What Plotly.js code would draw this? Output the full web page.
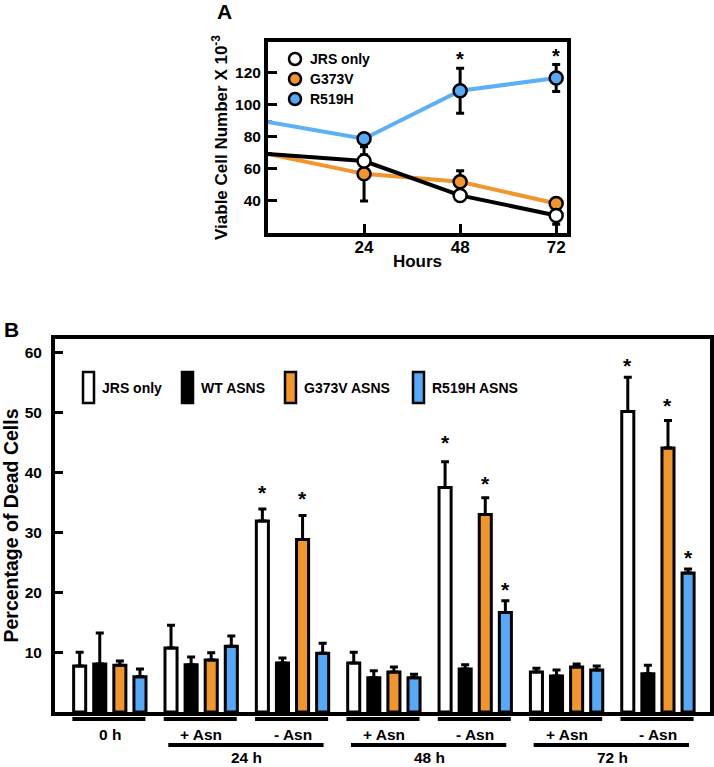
<!DOCTYPE html>
<html>
<head>
<meta charset="utf-8">
<script src="https://cdn.plot.ly/plotly-3.0.1.min.js"></script>
<style>html,body{margin:0;padding:0;background:#fff;}#chart{width:714px;height:767px;}</style>
</head>
<body>
<div id="chart"></div>
<script>
// ---------- Panel A data ----------
const hours = [0, 24, 48, 72];
const hourTicks = [24, 48, 72];
const jrsA = [69, 64.5, 43, 30.5];
const jrsAErr = [0, 4, 3, 5.5];
const g373vA = [69, 56.5, 51.5, 38];
const g373vAErr = [0, 17, 7, 2];
const r519hA = [89, 78.5, 108.5, 116.5];
const r519hAErr = [0, 3, 14, 8.5];
const starsAx = [48, 72];
const starsAy = [131, 133];
const seriesA = ["JRS only", "G373V", "R519H"];

// ---------- Panel B data ----------
const groupIdx = [0, 1, 2, 3, 4, 5, 6];
const groupLabels = ["0 h", "+ Asn", "- Asn", "+ Asn", "- Asn", "+ Asn", "- Asn"];
const timeLabels = ["24 h", "48 h", "72 h"];
const seriesB = ["JRS only", "WT ASNS", "G373V ASNS", "R519H ASNS"];
const jrsB    = [7.7, 10.7, 31.9, 8.2, 37.5, 6.7, 50.2];
const jrsBErr = [2.3, 3.8, 2.0, 1.8, 4.3, 0.6, 5.7];
const wtB     = [8.0, 7.9, 8.2, 5.7, 7.2, 6.0, 6.4];
const wtBErr  = [5.2, 1.3, 0.8, 1.2, 0.7, 1.0, 1.4];
const g373vB    = [7.8, 8.7, 28.8, 6.7, 33.0, 7.5, 44.1];
const g373vBErr = [0.7, 1.2, 4.0, 0.8, 2.8, 0.5, 4.6];
const r519hB    = [5.9, 11.0, 9.8, 5.7, 16.6, 7.0, 23.2];
const r519hBErr = [1.3, 1.7, 1.7, 0.6, 2.0, 0.7, 0.7];
// significance stars: group index, series index, y (glyph centre)
const starGroup  = [2, 2, 4, 4, 4, 6, 6, 6];
const starSeries = [0, 2, 0, 2, 3, 0, 2, 3];
const starY      = [37.4, 36.3, 45.6, 38.9, 21.1, 58.5, 51.9, 26.4];

// ---------- styling ----------
const W = 714, H = 767;
const PX = p => p / W, PY = p => 1 - p / H;
const ORANGE = "#F0962A", BLUE = "#56A9F7", BLUE_LINE = "#5CB0F6";
const FONT = "Liberation Sans, Arial, Helvetica, sans-serif";
const bold = (size, color) => ({family: FONT, size: size, color: color || "#000", weight: "bold"});

const traces = [];
// Panel A lines
const aSeries = [
  {y: jrsA, e: jrsAErr, line: "#000000", fill: "#ffffff"},
  {y: g373vA, e: g373vAErr, line: ORANGE, fill: ORANGE},
  {y: r519hA, e: r519hAErr, line: BLUE_LINE, fill: BLUE}
];
// lines first (orange under black, blue last)
[1, 0, 2].forEach(i => {
  const s = aSeries[i];
  traces.push({
    type: "scatter", mode: "lines", name: seriesA[i] + " line",
    x: hours, y: s.y, xaxis: "x", yaxis: "y", showlegend: false,
    line: {color: s.line, width: 4},
    error_y: {type: "data", array: s.e, visible: true, color: "#000", thickness: 3, width: 4},
    cliponaxis: true
  });
});
// then markers on top (measured time points only)
[1, 0, 2].forEach(i => {
  const s = aSeries[i];
  traces.push({
    type: "scatter", mode: "markers", name: seriesA[i],
    x: hours.slice(1), y: s.y.slice(1), xaxis: "x", yaxis: "y", showlegend: false,
    marker: {size: 13, color: s.fill, opacity: 1, line: {color: "#000", width: 2.5}},
    cliponaxis: false
  });
});

// Panel B bars
const bVals = [jrsB, wtB, g373vB, r519hB];
const bErrs = [jrsBErr, wtBErr, g373vBErr, r519hBErr];
const bColors = ["#ffffff", "#000000", ORANGE, BLUE];
bVals.forEach((v, i) => {
  traces.push({
    type: "bar", name: seriesB[i], x: groupIdx, y: v, xaxis: "x2", yaxis: "y2",
    showlegend: false,
    marker: {color: bColors[i], line: {color: "#000", width: 3}},
    error_y: {type: "data", array: bErrs[i], arrayminus: bErrs[i].map(() => 0),
              symmetric: false, visible: true, color: "#000", thickness: 3, width: 4}
  });
});

const BARGAP = 0.12, GROUPGAP = 0.4;
const slot = (1 - BARGAP) / 4;

const annotations = [];
const shapes = [];

// panel letters
annotations.push({text: "A", x: PX(224), y: PY(12), xref: "paper", yref: "paper",
  showarrow: false, xanchor: "center", yanchor: "middle", font: bold(21)});
annotations.push({text: "B", x: PX(11), y: PY(330), xref: "paper", yref: "paper",
  showarrow: false, xanchor: "center", yanchor: "middle", font: bold(21)});

// panel A stars
starsAx.forEach((x, i) => annotations.push({text: "*", x: x, y: starsAy[i], xref: "x", yref: "y",
  showarrow: false, xanchor: "center", yanchor: "middle", yshift: -4, font: bold(20)}));

// panel A legend
const aLegY = [59, 79, 99];
aSeries.forEach((s, i) => {
  shapes.push({type: "circle", xref: "paper", yref: "paper",
    x0: PX(289), x1: PX(301), y0: PY(aLegY[i] + 6), y1: PY(aLegY[i] - 6),
    fillcolor: s.fill, line: {color: "#000", width: 2.5}});
  annotations.push({text: seriesA[i], x: PX(308), y: PY(aLegY[i]), xref: "paper", yref: "paper",
    showarrow: false, xanchor: "left", yanchor: "middle", font: bold(14)});
});

// panel B legend
const bLegBoxX = [83, 182, 285, 413];
const bLegTextX = [100, 199, 302, 430];
seriesB.forEach((n, i) => {
  shapes.push({type: "rect", xref: "paper", yref: "paper",
    x0: PX(bLegBoxX[i]), x1: PX(bLegBoxX[i] + 11), y0: PY(403), y1: PY(372),
    fillcolor: bColors[i], line: {color: "#000", width: 2.5}});
  annotations.push({text: n, x: PX(bLegTextX[i]), y: PY(388), xref: "paper", yref: "paper",
    showarrow: false, xanchor: "left", yanchor: "middle", font: bold(14)});
});

// panel B stars
starGroup.forEach((g, k) => {
  const xo = g + (starSeries[k] - 1.5) * slot;
  annotations.push({text: "*", x: xo, y: starY[k], xref: "x2", yref: "y2",
    showarrow: false, xanchor: "center", yanchor: "middle", yshift: -4, font: bold(21)});
});

// panel B group underlines and labels
groupIdx.forEach((g, i) => {
  shapes.push({type: "line", xref: "x2", yref: "paper", x0: g - 0.41, x1: g + 0.39,
    y0: PY(719), y1: PY(719), line: {color: "#000", width: 4}});
  annotations.push({text: groupLabels[i], x: g, y: PY(734), xref: "x2", yref: "paper",
    showarrow: false, xanchor: "center", yanchor: "middle", font: bold(15.5)});
});
timeLabels.forEach((t, k) => {
  const a = 2 * k + 1, b = 2 * k + 2;
  shapes.push({type: "line", xref: "x2", yref: "paper", x0: a - 0.36, x1: b + 0.34,
    y0: PY(745), y1: PY(745), line: {color: "#000", width: 4}});
  annotations.push({text: t, x: (a + b) / 2, y: PY(757), xref: "x2", yref: "paper",
    showarrow: false, xanchor: "center", yanchor: "middle", font: bold(15.5)});
});

const axisCommon = {showgrid: false, zeroline: false, showline: true, linecolor: "#000",
  linewidth: 4, mirror: true, ticks: "inside", tickcolor: "#000", tickwidth: 3,
  automargin: false, fixedrange: true};

const layout = {
  width: W, height: H, margin: {l: 0, r: 0, t: 0, b: 0},
  paper_bgcolor: "#fff", plot_bgcolor: "#fff", showlegend: false,
  barmode: "group", bargap: BARGAP, bargroupgap: GROUPGAP,
  font: {family: FONT, color: "#000"},
  xaxis: Object.assign({}, axisCommon, {domain: [PX(268), PX(567)], anchor: "y",
    range: [0, 74.7], tickmode: "array", tickvals: hourTicks, ticklen: 9,
    tickfont: bold(17), ticklabelstandoff: -4,
    title: {text: "Hours", font: bold(17), standoff: 0}}),
  yaxis: Object.assign({}, axisCommon, {domain: [PY(233), PY(42)], anchor: "x",
    range: [19.5, 139], tickmode: "array", tickvals: [40, 60, 80, 100, 120], ticklen: 9,
    tickfont: bold(15.5), ticklabelstandoff: 0,
    title: {text: "Viable Cell Number X 10<sup>-3</sup>", font: bold(17), standoff: 4}}),
  xaxis2: Object.assign({}, axisCommon, {domain: [PX(55), PX(710)], anchor: "y2",
    range: [-0.6, 6.57], ticks: "", showticklabels: false}),
  yaxis2: Object.assign({}, axisCommon, {domain: [PY(712), PY(339)], anchor: "x2",
    range: [0, 62.3], tickmode: "array", tickvals: [10, 20, 30, 40, 50, 60], ticklen: 8,
    tickfont: bold(15.5), ticklabelstandoff: 6,
    title: {text: "Percentage of Dead Cells", font: bold(19.5), standoff: 6}}),
  annotations: annotations,
  shapes: shapes
};

Plotly.newPlot("chart", traces, layout, {displayModeBar: false, staticPlot: true});
</script>
</body>
</html>
